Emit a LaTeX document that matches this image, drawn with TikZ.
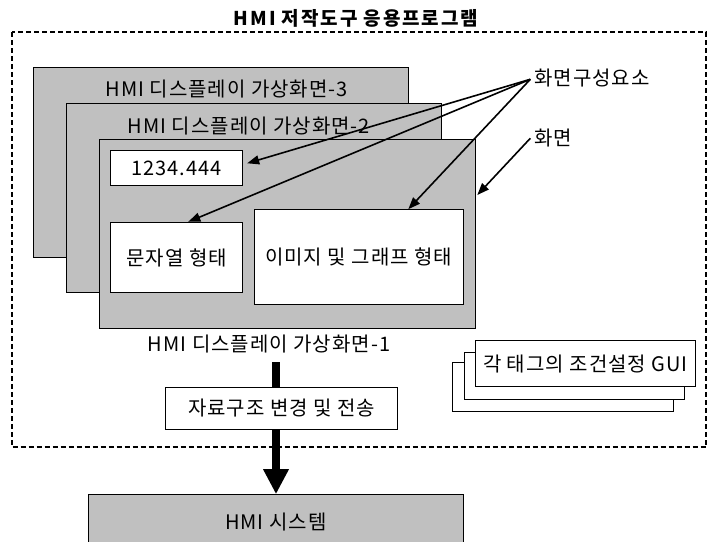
\documentclass[tikz,border=0pt]{standalone}
\usepackage{fontspec}
\setmainfont{Noto Sans CJK KR}[LetterSpace=5]
\newfontfamily\titlefont{Noto Sans CJK KR}[LetterSpace=10]
\usetikzlibrary{arrows.meta,calc}
\definecolor{boxgray}{HTML}{C0C0C0}
\tikzset{
  gbox/.style={draw=black, fill=boxgray, line width=1pt, rectangle, inner sep=0pt},
  wbox/.style={draw=black, fill=white, line width=1pt, rectangle, inner sep=0pt},
  lbl/.style={inner sep=0pt, font=\fontsize{20}{23}\selectfont},
  thinarrow/.style={line width=1.6pt, -{Triangle[length=12pt,width=9pt]}},
}
\begin{document}
\begin{tikzpicture}[x=1pt,y=-1pt]
\clip (0,0) rectangle (717,541);
\fill[white] (0,0) rectangle (717,541);
% title
\node[inner sep=0pt, font=\titlefont\fontsize{19}{22}\selectfont\bfseries] (title) at (356,18) {HMI 저작도구 응용프로그램};
% dashed frame
\draw[line width=2.2pt, dash pattern=on 5pt off 3pt] (11.7,32.3) rectangle (706.3,447.3);
% screens
\node[gbox, minimum width=375pt, minimum height=189.6pt] (s3) at (220.8,162.5) {};
\node[lbl] (l3) at (226.7,89) {HMI 디스플레이 가상화면-3};
\node[gbox, minimum width=375.3pt, minimum height=189.4pt] (s2) at (254.3,198) {};
\node[lbl] (l2) at (248.8,126) {HMI 디스플레이 가상화면-2};
\node[gbox, minimum width=376pt, minimum height=189.3pt] (s1) at (287.3,233.7) {};
\node[lbl] (l1) at (269,344) {HMI 디스플레이 가상화면-1};
% elements
\node[wbox, lbl, minimum width=132pt, minimum height=35.3pt] (num) at (176.7,168.3) {1234.444};
\node[wbox, lbl, minimum width=132pt, minimum height=70.4pt] (str) at (176.7,257.5) {문자열 형태};
\node[wbox, lbl, minimum width=209.3pt, minimum height=95pt] (img) at (358.7,257.2) {이미지 및 그래프 형태};
% labels on right
\node[lbl, anchor=west] (el) at (534,78) {화면구성요소};
\coordinate (pe) at (530.3,79.3);
\node[lbl, anchor=west] (sc) at (534,138) {화면};
\coordinate (ps) at (530.3,138.3);
\draw[thinarrow] (pe) -- ([yshift=5pt,xshift=4pt]num.east);
\draw[thinarrow] (pe) -- ([xshift=11.6pt]str.north);
\draw[thinarrow] (pe) -- ([xshift=49.6pt]img.north);
\draw[thinarrow] (ps) -- ([yshift=38.7pt,xshift=1.5pt]s1.east);
% GUI stacked boxes
\node[wbox, minimum width=221pt, minimum height=48.3pt] (g3) at (563.2,386.9) {};
\node[wbox, minimum width=220.3pt, minimum height=46.6pt] (g2) at (574.2,376) {};
\node[wbox, lbl, minimum width=219.8pt, minimum height=46pt] (g1) at (585.4,363.7) {각 태그의 조건설정 GUI};
% conversion box and system
\node[wbox, lbl, minimum width=232pt, minimum height=42pt] (conv) at (281.7,408.3) {자료구조 변경 및 전송};
\node[gbox, lbl, minimum width=375pt, minimum height=54pt] (sys) at (275.8,521.7) {HMI 시스템};
\coordinate (t1) at (276,362);
\draw[line width=8.7pt] (t1) -- (t1 |- conv.north);
\draw[line width=8.7pt, -{Triangle[length=25pt,width=24pt]}] (t1 |- conv.south) -- (t1 |- sys.north);
\end{tikzpicture}
\end{document}
